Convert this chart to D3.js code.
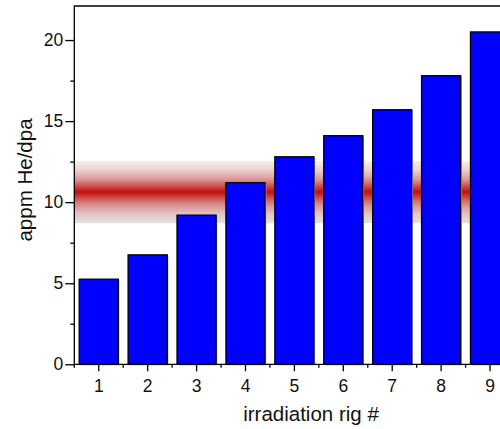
<!DOCTYPE html>
<html>
<head>
<meta charset="utf-8">
<style>
body { margin: 0; background: #fff; }
svg { display: block; font-family: "Liberation Sans", Arial, sans-serif; }
</style>
<script src="https://cdn.jsdelivr.net/npm/d3@7/dist/d3.min.js"></script>
</head>
<body>
<div id="chart"></div>
<script>
// data
var rigs = ['1', '2', '3', '4', '5', '6', '7', '8', '9'];
var heDpa = [5.25, 6.75, 9.2, 11.2, 12.8, 14.1, 15.7, 17.8, 20.5];
var yTicks = [0, 5, 10, 15, 20];
var yMinor = [2.5, 7.5, 12.5, 17.5];
var bandLow = 8.7, bandHigh = 12.55;   // target range, red fuzzy stripe

var W = 500, H = 429;
var padL = 74.3, padR = 514.5, padT = 6, padB = 364.3;

var svg = d3.select('#chart').append('svg')
    .attr('width', W).attr('height', H);

var x = d3.scaleBand().domain(rigs).range([padL, padR])
    .paddingInner(0.2).paddingOuter(0.1);
var y = d3.scaleLinear().domain([0, 22.1]).range([padB, padT]);

// gradient for the band
var grad = svg.append('defs').append('linearGradient')
    .attr('id', 'band').attr('x1', 0).attr('x2', 0).attr('y1', 0).attr('y2', 1);
[[0, '#f6eeee'], [0.15, '#ecd0d0'], [0.3, '#dc9696'], [0.42, '#cc4444'],
 [0.5, '#c40c0c'], [0.58, '#cc4444'], [0.7, '#d88c8c'], [0.85, '#e4c4c4'], [1, '#e2e2e2']]
    .forEach(function (s) {
        grad.append('stop').attr('offset', s[0]).attr('stop-color', s[1]);
    });

svg.append('rect')
    .attr('x', padL).attr('width', W - padL)
    .attr('y', y(bandHigh)).attr('height', y(bandLow) - y(bandHigh))
    .attr('fill', 'url(#band)');

// bars with a faint shadow
var g = svg.append('g');
g.selectAll('rect.shadow').data(heDpa).enter().append('rect')
    .attr('class', 'shadow')
    .attr('x', function (d, i) { return x(rigs[i]) + 1.2; })
    .attr('y', function (d) { return y(d) + 1.2; })
    .attr('width', x.bandwidth())
    .attr('height', function (d) { return padB - y(d); })
    .attr('fill', '#b8b8f4');
g.selectAll('rect.bar').data(heDpa).enter().append('rect')
    .attr('class', 'bar')
    .attr('x', function (d, i) { return x(rigs[i]); })
    .attr('y', function (d) { return y(d); })
    .attr('width', x.bandwidth())
    .attr('height', function (d) { return padB - y(d); })
    .attr('fill', '#0000ff')
    .attr('stroke', '#000')
    .attr('stroke-width', 1.3);

// frame (left, top, bottom)
svg.append('path')
    .attr('d', 'M' + W + ',' + padT + 'H' + padL + 'V' + padB + 'H' + W)
    .attr('fill', 'none').attr('stroke', '#000').attr('stroke-width', 1.3);

// y axis
svg.append('g').attr('transform', 'translate(' + padL + ',0)')
    .call(d3.axisLeft(y).tickValues(yTicks).tickSize(9).tickPadding(2));
svg.append('g').attr('transform', 'translate(' + padL + ',0)')
    .call(d3.axisLeft(y).tickValues(yMinor).tickSize(4).tickFormat(''));

// x axis
svg.append('g').attr('transform', 'translate(0,' + padB + ')')
    .call(d3.axisBottom(x).tickSize(7).tickPadding(8));
var minorX = rigs.map(function (r) { return x(r) - x.step() * x.paddingInner() / 2; });
svg.append('g').selectAll('line').data(minorX).enter().append('line')
    .attr('x1', function (d) { return d; }).attr('x2', function (d) { return d; })
    .attr('y1', padB).attr('y2', padB + 3.5)
    .attr('stroke', '#000').attr('stroke-width', 1.3);

svg.selectAll('.domain').remove();
svg.selectAll('.tick line').attr('stroke', '#000').attr('stroke-width', 1.3);
svg.selectAll('.tick text').attr('font-size', 17.5).attr('fill', '#111')
    .attr('font-family', '"Liberation Sans", Arial, sans-serif');

// labels
svg.append('text')
    .attr('x', 311).attr('y', 421)
    .attr('text-anchor', 'middle').attr('font-size', 20.5).attr('fill', '#111')
    .text('irradiation rig #');
svg.append('text')
    .attr('transform', 'translate(32,180) rotate(-90)')
    .attr('text-anchor', 'middle').attr('font-size', 20.5).attr('fill', '#111')
    .text('appm He/dpa');
</script>
</body>
</html>
